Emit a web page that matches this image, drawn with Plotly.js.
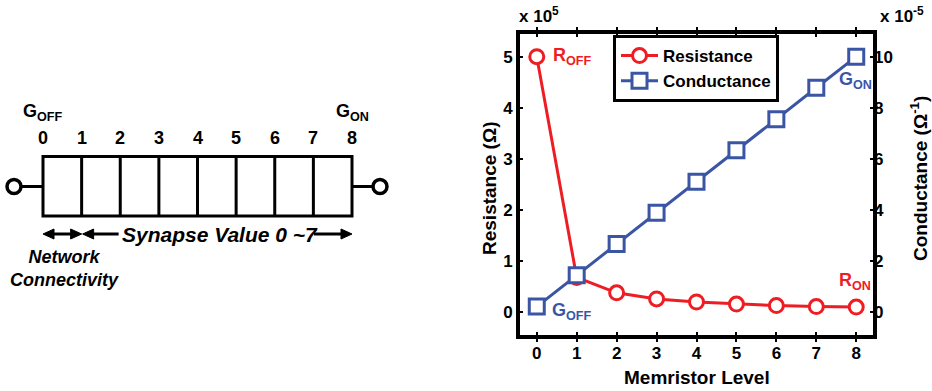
<!DOCTYPE html>
<html><head><meta charset="utf-8">
<script src="https://cdn.plot.ly/plotly-3.0.1.min.js"></script>
<style>html,body{margin:0;padding:0;background:#fff}#chart{width:932px;height:391px}</style>
</head><body><div id="chart"></div>
<script>
// ---- data ----
const levels = [0, 1, 2, 3, 4, 5, 6, 7, 8];
const resistance = [5.0, 0.67, 0.37, 0.25, 0.19, 0.15, 0.12, 0.10, 0.09];   // x10^5 ohm
const conductance = [0.2, 1.43, 2.65, 3.88, 5.10, 6.33, 7.55, 8.78, 10.0];  // x10^-5 S
const xTickLabels = ['0', '1', '2', '3', '4', '5', '6', '7', '8'];
const rTicks = [0, 1, 2, 3, 4, 5];
const gTicks = [0, 2, 4, 6, 8, 10];
const diagramLabels = ['0', '1', '2', '3', '4', '5', '6', '7', '8'];

// ---- styling / layout helpers ----
const W = 932, H = 391;
const RED = '#EE1D24', BLUE = '#3B55A5';
const FONT = 'Liberation Sans, Arial, sans-serif';
const fL = 520, fR = 873, fT = 34, fB = 335;   // inner frame edges (px)

// diagram coordinate system: x3 in level units, y3 in px
const U = 38.625, X0 = 43;
const d = p => p / U;
const boxTop = 156.5, boxBot = 216, midY = 186.5, arrY = 234;
const headL = 11, headH = 5;

const black = {color: '#000', width: 3};
const shapes = [];
shapes.push({type: 'rect', xref: 'x3', yref: 'y3', x0: levels[0], x1: levels[levels.length - 1], y0: boxTop, y1: boxBot, line: black});
levels.slice(1, -1).forEach(l => shapes.push({type: 'line', xref: 'x3', yref: 'y3', x0: l, x1: l, y0: boxTop, y1: boxBot, line: black}));
// terminals
const rC = 7;
const cL = levels[0] - d(29), cR = levels[8] + d(28);
shapes.push({type: 'line', xref: 'x3', yref: 'y3', x0: cL + d(rC), x1: levels[0], y0: midY, y1: midY, line: black});
shapes.push({type: 'line', xref: 'x3', yref: 'y3', x0: levels[8], x1: cR - d(rC), y0: midY, y1: midY, line: black});
[cL, cR].forEach(c => shapes.push({type: 'circle', xref: 'x3', yref: 'y3', x0: c - d(rC), x1: c + d(rC), y0: midY - rC, y1: midY + rC, line: {color: '#000', width: 3.5}, fillcolor: '#fff'}));
// arrows
const headLeft = t => ({type: 'path', xref: 'x3', yref: 'y3', path: `M${t},${arrY} L${t + d(headL)},${arrY - headH} L${t + d(headL)},${arrY + headH} Z`, fillcolor: '#000', line: {color: '#000', width: 1}});
const headRight = t => ({type: 'path', xref: 'x3', yref: 'y3', path: `M${t},${arrY} L${t - d(headL)},${arrY - headH} L${t - d(headL)},${arrY + headH} Z`, fillcolor: '#000', line: {color: '#000', width: 1}});
const seg = (a, b) => ({type: 'line', xref: 'x3', yref: 'y3', x0: a, x1: b, y0: arrY, y1: arrY, line: black});
shapes.push(headLeft(levels[0]), seg(levels[0] + d(headL), levels[1] - d(headL)), headRight(levels[1]));
shapes.push(headLeft(levels[1] + d(1)), seg(levels[1] + d(headL), levels[1] + d(37)));
shapes.push(seg(levels[8] - d(38), levels[8] - d(headL)), headRight(levels[8]));

const annotations = [];
const A = o => Object.assign({showarrow: false, xanchor: 'center', yanchor: 'middle'}, o);
diagramLabels.forEach((t, i) => annotations.push(A({xref: 'x3', yref: 'y3', x: levels[i], y: 138, text: '<b>' + t + '</b>', font: {family: FONT, size: 18, color: '#000'}})));
annotations.push(A({xref: 'x3', yref: 'y3', x: levels[0], y: 112, text: '<b>G<sub>OFF</sub></b>', font: {family: FONT, size: 18, color: '#000'}}));
annotations.push(A({xref: 'x3', yref: 'y3', x: levels[8], y: 112, text: '<b>G<sub>ON</sub></b>', font: {family: FONT, size: 18, color: '#000'}}));
annotations.push(A({xref: 'x3', yref: 'y3', x: levels[1] + d(38), y: arrY, xanchor: 'left', text: '<b><i>Synapse Value 0 ~7</i></b>', font: {family: FONT, size: 21, color: '#000'}}));
annotations.push(A({xref: 'x3', yref: 'y3', x: levels[0] + d(21), y: 268, text: '<b><i>Network<br>Connectivity</i></b>', font: {family: FONT, size: 18, color: '#000'}}));

// chart labels
const lab = {family: FONT, size: 18};
annotations.push(A({xref: 'x', yref: 'y', x: 0.36, y: resistance[0], xanchor: 'left', text: '<b>R<sub>OFF</sub></b>', font: Object.assign({color: RED}, lab)}));
annotations.push(A({xref: 'x', yref: 'y', x: 7.52, y: 0.59, xanchor: 'left', text: '<b>R<sub>ON</sub></b>', font: Object.assign({color: RED}, lab)}));
annotations.push(A({xref: 'x', yref: 'y2', x: 7.52, y: 9.05, xanchor: 'left', text: '<b>G<sub>ON</sub></b>', font: Object.assign({color: BLUE}, lab)}));
annotations.push(A({xref: 'x', yref: 'y', x: 0.33, y: 0, xanchor: 'left', text: '<b>G<sub>OFF</sub></b>', font: Object.assign({color: BLUE}, lab)}));
// axis titles & exponents
annotations.push(A({xref: 'paper', yref: 'paper', x: (fL + fR) / 2 / W, y: 1 - 377 / H, text: '<b>Memristor Level</b>', font: {family: FONT, size: 19, color: '#000'}}));
annotations.push(A({xref: 'paper', yref: 'paper', x: 489 / W, y: 1 - 188 / H, textangle: -90, text: '<b>Resistance (Ω)</b>', font: {family: FONT, size: 19, color: '#000'}}));
annotations.push(A({xref: 'paper', yref: 'paper', x: 919 / W, y: 1 - 179 / H, textangle: -90, text: '<b>Conductance (Ω<sup>-1</sup>)</b>', font: {family: FONT, size: 19, color: '#000'}}));
annotations.push(A({xref: 'paper', yref: 'paper', x: 517 / W, y: 1 - 15 / H, xanchor: 'left', text: '<b>x 10<sup>5</sup></b>', font: {family: FONT, size: 17, color: '#000'}}));
annotations.push(A({xref: 'paper', yref: 'paper', x: 878 / W, y: 1 - 15 / H, xanchor: 'left', text: '<b>x 10<sup>-5</sup></b>', font: {family: FONT, size: 17, color: '#000'}}));

const tickFont = {family: FONT, size: 17, color: '#000', weight: 'bold'};
const traces = [
  {x: levels, y: resistance, name: 'Resistance', type: 'scatter', mode: 'lines+markers', yaxis: 'y', xaxis: 'x',
   line: {color: RED, width: 3}, marker: {symbol: 'circle', size: 14, color: '#fff', line: {color: RED, width: 3}}},
  {x: levels, y: conductance, name: 'Conductance', type: 'scatter', mode: 'lines+markers', yaxis: 'y2', xaxis: 'x',
   line: {color: BLUE, width: 3}, marker: {symbol: 'square', size: 15, color: '#fff', line: {color: BLUE, width: 3}}}
];

const layout = {
  width: W, height: H, margin: {l: 0, r: 0, t: 0, b: 0}, paper_bgcolor: '#fff', plot_bgcolor: '#fff',
  showlegend: true,
  legend: {x: 613 / W, y: 1 - 35 / H, xanchor: 'left', yanchor: 'top', bgcolor: '#fff', bordercolor: '#000', borderwidth: 3,
           itemwidth: 37, font: {family: FONT, size: 17, color: '#000', weight: 'bold'}, tracegroupgap: 0},
  xaxis: {domain: [fL / W, fR / W], anchor: 'y', range: [-0.42, 8.42], tickvals: levels, ticktext: xTickLabels,
          ticks: 'inside', ticklen: 3, tickwidth: 2, tickcolor: '#000', showline: true, linewidth: 4, linecolor: '#000',
          mirror: 'allticks', showgrid: false, zeroline: false, tickfont: tickFont, automargin: false, fixedrange: true},
  yaxis: {domain: [1 - fB / H, 1 - fT / H], anchor: 'x', range: [-0.457, 5.445], tickvals: rTicks,
          ticks: 'inside', ticklen: 3, tickwidth: 2, tickcolor: '#000', showline: true, linewidth: 4, linecolor: '#000',
          mirror: 'allticks', showgrid: false, zeroline: false, tickfont: tickFont, automargin: false},
  yaxis2: {overlaying: 'y', side: 'right', anchor: 'x', range: [-0.914, 10.89], tickvals: gTicks,
           ticks: '', showline: false, showgrid: false, zeroline: false, tickfont: tickFont, automargin: false},
  xaxis3: {domain: [0, 0.45], anchor: 'y3', range: [-X0 / U, (0.45 * W - X0) / U], visible: false, fixedrange: true},
  yaxis3: {domain: [0, 1], anchor: 'x3', range: [H, 0], visible: false, fixedrange: true},
  shapes: shapes,
  annotations: annotations
};

Plotly.newPlot('chart', traces, layout, {staticPlot: true, displayModeBar: false});
</script>
</body></html>
